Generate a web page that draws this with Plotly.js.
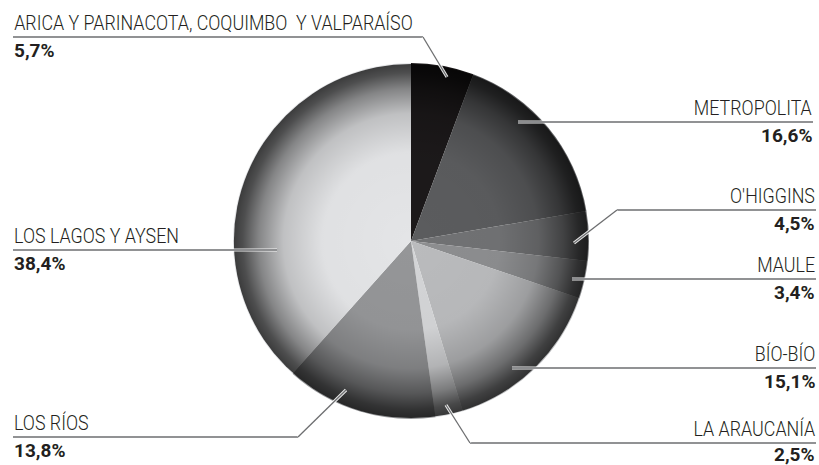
<!DOCTYPE html>
<html><head><meta charset="utf-8">
<script src="https://cdn.plot.ly/plotly-3.0.1.min.js"></script>
<style>html,body{margin:0;padding:0;background:#fff}#chart{width:819px;height:465px}</style>
</head><body><div id="chart"></div>
<script>
// ---- data ----
const regions = ['ARICA Y PARINACOTA, COQUIMBO  Y VALPARAÍSO','METROPOLITA',"O'HIGGINS",'MAULE','BÍO-BÍO','LA ARAUCANÍA','LOS RÍOS','LOS LAGOS Y AYSEN'];
const shares = [5.7, 16.6, 4.5, 3.4, 15.1, 2.5, 13.8, 38.4];

// ---- styles ----
const sliceColors = ['#1c191a','#5b5c5e','#717274','#8d8e90','#babbbd','#d4d5d7','#959698','#e4e5e7'];
const W = 819, H = 465;
const cx = 411, cy = 241, R = 178;
const FONT = 'Roboto, "DejaVu Sans Condensed", sans-serif';
const TXT = '#231f20';
const NAME_SCALE = 0.85;   // condensed look for the region names
const px = x => x / W, py = y => 1 - y / H;

// label placement: side, text x, underline y, percent offset, leader path (pixel points, from text side to slice)
const place = [
  {side:'left',  x:13,  ly:37,  po:1,  path:[[13,37],[423,37],[447,77]]},
  {side:'right', x:813, ly:122, po:1,  path:[[813,122],[518,122]]},
  {side:'right', x:816, ly:210, po:1,  path:[[816,210],[617,210],[574,243]]},
  {side:'right', x:816, ly:279, po:1,  path:[[816,279],[572,279]]},
  {side:'right', x:816, ly:368, po:1,  path:[[816,368],[512,368]]},
  {side:'right', x:816, ly:443, po:-1, path:[[816,443],[470,443],[446,405]]},
  {side:'left',  x:13,  ly:437, po:1,  path:[[13,437],[298,437],[346,390]]},
  {side:'left',  x:13,  ly:250, po:1,  path:[[13,250],[277,250]]}
];

const annotations = [];
const shapes = [];
regions.forEach((name, i) => {
  const p = place[i];
  const anchor = p.side === 'left' ? 'left' : 'right';
  annotations.push({xref:'paper', yref:'paper', x:px(p.x), y:py(p.ly - 1), xanchor:anchor, yanchor:'bottom',
    text:name, showarrow:false, font:{family:FONT, size:21, color:TXT, weight:300}, borderpad:0});
  annotations.push({xref:'paper', yref:'paper', x:px(p.x), y:py(p.ly + p.po), xanchor:anchor, yanchor:'top',
    text:'<b>' + shares[i].toFixed(1).replace('.', ',') + '%</b>', showarrow:false,
    font:{family:FONT, size:19, color:TXT}, borderpad:0});
  const pts = p.path;
  for (let k = 0; k < pts.length - 1; k++) {
    const seg = {type:'line', xref:'paper', yref:'paper', x0:px(pts[k][0]), y0:py(pts[k][1]), x1:px(pts[k+1][0]), y1:py(pts[k+1][1])};
    shapes.push(Object.assign({}, seg, {line:{color:'rgba(255,255,255,0.9)', width:3.2}, layer:'above'}));
    shapes.push(Object.assign({}, seg, {line:{color:'#6d6e70', width:1.3}, layer:'above'}));
  }
});

// shading overlay (radial darkening toward rim)
const svg = '<svg xmlns="http://www.w3.org/2000/svg" width="400" height="400" viewBox="0 0 400 400">' +
  '<defs><radialGradient id="g" cx="0.5" cy="0.5" r="0.5">' +
  '<stop offset="0" stop-color="#000" stop-opacity="0"/>' +
  '<stop offset="0.5" stop-color="#000" stop-opacity="0.02"/>' +
  '<stop offset="0.72" stop-color="#000" stop-opacity="0.16"/>' +
  '<stop offset="0.86" stop-color="#000" stop-opacity="0.42"/>' +
  '<stop offset="0.95" stop-color="#000" stop-opacity="0.66"/>' +
  '<stop offset="1" stop-color="#000" stop-opacity="0.74"/>' +
  '</radialGradient></defs>' +
  '<circle cx="200" cy="200" r="199" fill="url(#g)"/></svg>';

const trace = {
  type:'pie', labels:regions, values:shares, sort:false, direction:'clockwise', rotation:0,
  marker:{colors:sliceColors, line:{width:0}}, textinfo:'none', hoverinfo:'none', showlegend:false,
  domain:{x:[px(cx - R), px(cx + R)], y:[py(cy + R), py(cy - R)]}
};

const layout = {
  width:W, height:H, margin:{l:0, r:0, t:0, b:0}, paper_bgcolor:'#fff', plot_bgcolor:'#fff',
  showlegend:false, annotations:annotations, shapes:shapes,
  images:[{source:'data:image/svg+xml;charset=utf-8,' + encodeURIComponent(svg), xref:'paper', yref:'paper',
    x:px(cx - R), y:py(cy - R), sizex:2 * R / W, sizey:2 * R / H, xanchor:'left', yanchor:'top',
    sizing:'stretch', layer:'above', opacity:1}]
};

Plotly.newPlot('chart', [trace], layout, {displayModeBar:false, staticPlot:true}).then(() => {
  // horizontally condense the region-name texts around their anchored edge
  const groups = document.querySelectorAll('#chart .annotation');
  groups.forEach((g, idx) => {
    if (idx % 2 !== 0) return;               // even indices are region names
    const t = g.querySelector('text.annotation-text');
    if (!t) return;
    const bb = t.getBBox();
    const anchorLeft = place[idx / 2].side === 'left';
    const ax = anchorLeft ? bb.x : bb.x + bb.width;
    const prev = t.getAttribute('transform') || '';
    t.setAttribute('transform', prev + ' translate(' + ax + ',0) scale(' + NAME_SCALE + ',1) translate(' + (-ax) + ',0)');
  });
});
</script></body></html>
